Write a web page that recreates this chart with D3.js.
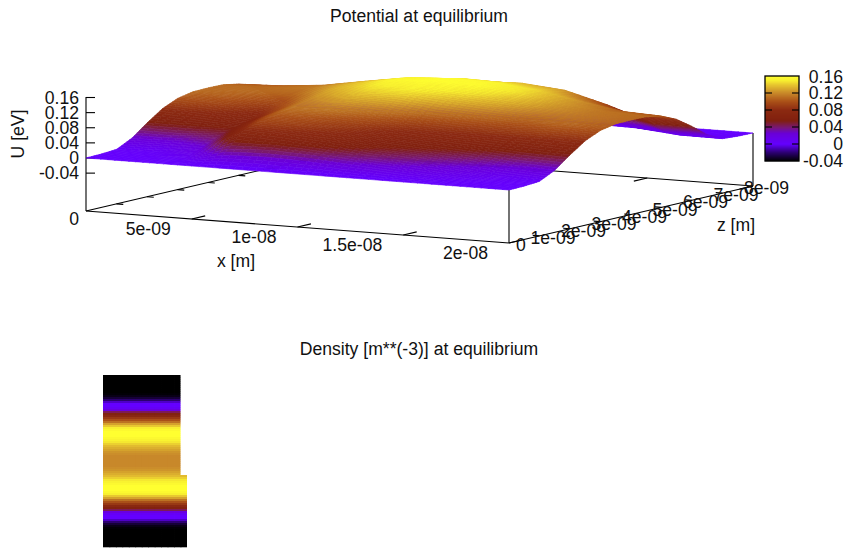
<!DOCTYPE html>
<html>
<head>
<meta charset="utf-8">
<script src="https://d3js.org/d3.v7.min.js"></script>
<style>
  html, body { margin: 0; padding: 0; background: #fff; }
  text { font-family: "Liberation Sans", Arial, sans-serif; font-size: 17.6px; fill: #111; }
</style>
</head>
<body>
<div id="chart"></div>
<script>
// x and z grid of the potential surface (metres)
var xGrid = [0, 2e-9, 4e-9, 6e-9, 8e-9, 1e-8, 1.2e-8, 1.4e-8, 1.6e-8, 1.8e-8, 2e-8];
var zGrid = [0, 5e-10, 1e-9, 1.5e-9, 2e-9, 2.5e-9, 3e-9, 3.5e-9, 4e-9, 4.5e-9, 5e-9, 5.5e-9, 6e-9, 6.5e-9, 7e-9, 7.5e-9, 8e-9];
// U [eV], one row per z, one column per x
var potential = [
  [0,0,0,0,0,0,0,0,0,0,0],
  [.001,.002,.008,.04,.045,.04,.03,.02,.01,.003,.001],
  [.004,.006,.022,.08,.075,.065,.05,.04,.025,.01,.004],
  [.024,.026,.04,.095,.09,.08,.062,.055,.045,.03,.024],
  [.055,.055,.055,.105,.1,.09,.075,.07,.065,.058,.055],
  [.083,.078,.065,.112,.115,.105,.09,.085,.085,.086,.083],
  [.101,.095,.08,.118,.13,.125,.11,.105,.10,.106,.101],
  [.109,.105,.095,.126,.142,.145,.135,.125,.115,.114,.109],
  [.11,.11,.108,.133,.15,.155,.15,.14,.125,.115,.11],
  [.109,.11,.115,.136,.155,.16,.158,.147,.127,.114,.109],
  [.101,.105,.115,.134,.152,.158,.155,.145,.125,.106,.101],
  [.083,.088,.098,.122,.14,.148,.145,.135,.11,.086,.083],
  [.055,.06,.07,.10,.118,.13,.135,.125,.095,.058,.055],
  [.024,.028,.035,.055,.07,.085,.095,.09,.06,.025,.024],
  [.004,.006,.01,.02,.025,.035,.045,.04,.015,.005,.004],
  [.001,.001,.002,.003,.004,.005,.005,.004,.002,.001,.001],
  [0,0,0,0,0,0,0,0,0,0,0]
];
var xTicks = [5e-9, 1e-8, 1.5e-8, 2e-8];
var xTickLabels = ['5e-09', '1e-08', '1.5e-08', '2e-08'];
var zTicks = [0, 1e-9, 2e-9, 3e-9, 4e-9, 5e-9, 6e-9, 7e-9, 8e-9];
var zTickLabels = ['0', '1e-09', '2e-09', '3e-09', '4e-09', '5e-09', '6e-09', '7e-09', '8e-09'];
var uTicks = [0.16, 0.12, 0.08, 0.04, 0, -0.04];
var uTickLabels = ['0.16', '0.12', '0.08', '0.04', '0', '-0.04'];

// palette, cb value -> colour
var paletteValues = [-0.04, -0.02, 0, 0.025, 0.04, 0.055, 0.08, 0.10, 0.12, 0.14, 0.15, 0.16];
var paletteColors = ['#000000', '#2c0070', '#6400ff', '#6a00d8', '#7a1a70', '#80200f', '#8c2a12', '#aa5018', '#c8882a', '#e8c830', '#f8f030', '#ffff30'];

// density per row of the map, top to bottom, as share of the colour range
var densityRows = [0, 0, 0, 0, 0, 0, 0, 0, 0, .005, .02, .05, .1, .16, .2, .2, .23, .3, .42, .5, .57, .64, .7, .76, .84, .9, .95, .98, 1, 1, 1, .98, .96, .94, .91, .88, .86, .84, .82, .81, .8, .8, .8,
  .8, .8, .8, .81, .82, .84, .86, .88, .91, .94, .96, .98, 1, 1, 1, .98, .95, .9, .84, .76, .7, .64, .57, .5, .42, .3, .23, .2, .2, .16, .1, .05, .02, .005, 0, 0, 0, 0, 0, 0, 0, 0, 0];
var densityColsTop = 12, densityColsBottom = 13, densityStepRow = 50;

var color = d3.scaleLinear().domain(paletteValues).range(paletteColors).interpolate(d3.interpolateRgb).clamp(true);

var svg = d3.select('#chart').append('svg').attr('width', 848).attr('height', 548).style('display', 'block');

// 3D box, projected the way the gnuplot view draws it
var xToA = d3.scaleLinear().domain([0, 2e-8]).range([0, 1]);
var zToT = d3.scaleLinear().domain([0, 8e-9]).range([0, 1]);
var uToPx = d3.scaleLinear().domain([0, 0.16]).range([53, 53 + 60.5]);

function project(x, z, u) {
    var a = xToA(x), t = zToT(z);
    return [86 + 423 * a + 244 * t, 211 + 32 * a - 57 * t - (u === null ? 0 : uToPx(u))];
}

function line(g, p, q, w) {
    g.append('line').attr('x1', p[0]).attr('y1', p[1]).attr('x2', q[0]).attr('y2', q[1])
        .attr('stroke', '#000').attr('stroke-width', w || 1.1);
}

function label(str, x, y, anchor) {
    return svg.append('text').attr('x', x).attr('y', y).attr('dy', '0.35em').attr('text-anchor', anchor || 'middle').text(str);
}

var back = svg.append('g');
// base of the box
line(back, project(0, 0, null), project(0, 8e-9, null));
line(back, project(0, 8e-9, null), project(2e-8, 8e-9, null));
line(back, project(2e-8, 0, null), project(2e-8, 8e-9, null));
line(back, project(0, 0, null), project(2e-8, 0, null));
// verticals
line(back, project(0, 0, null), [86, 97]);
line(back, project(2e-8, 0, null), project(2e-8, 0, 0));
line(back, project(2e-8, 8e-9, null), project(2e-8, 8e-9, 0));

xTicks.forEach(function(x, i){
    var p = project(x, 0, null), q = project(x, 8e-9 * 0.055, null);
    line(back, p, q);
    line(back, project(x, 8e-9, null), project(x, 8e-9 * 0.945, null));
    label(xTickLabels[i], p[0] - 21, p[1] + 10, 'end');
});
zTicks.forEach(function(z, i){
    if (i > 0 && i < 8){
        line(back, project(0, z, null), project(0.016 * 2e-8, z, null));
        line(back, project(2e-8, z, null), project(0.984 * 2e-8, z, null));
    }
    var p = project(2e-8, z, null);
    label(zTickLabels[i], p[0] + (i === 0 ? 7 : -9), p[1] + 2, 'start');
});
uTicks.forEach(function(u, i){
    var y = project(0, 0, u)[1];
    line(back, [86, y], [95, y]);
    label(uTickLabels[i], 79, y, 'end');
});
label('0', 79, 219, 'end');

// surface, each grid cell split up like pm3d interpolate does
var steps = 6;
var surface = svg.append('g');
for (var j = zGrid.length - 2; j >= 0; j--){
    for (var i = 0; i < xGrid.length - 1; i++){
        for (var sj = steps - 1; sj >= 0; sj--){
            for (var si = 0; si < steps; si++){
                var s0 = si / steps, s1 = (si + 1) / steps, r0 = sj / steps, r1 = (sj + 1) / steps;
                var corners = [[s0, r0], [s1, r0], [s1, r1], [s0, r1]].map(function(c){
                    var u = d3.interpolate(
                        d3.interpolate(potential[j][i], potential[j][i + 1])(c[0]),
                        d3.interpolate(potential[j + 1][i], potential[j + 1][i + 1])(c[0]))(c[1]);
                    var x = xGrid[i] + (xGrid[i + 1] - xGrid[i]) * c[0];
                    var z = zGrid[j] + (zGrid[j + 1] - zGrid[j]) * c[1];
                    return {p: project(x, z, u), u: u};
                });
                var c = color(d3.mean(corners, function(d){ return d.u; }));
                surface.append('polygon')
                    .attr('points', corners.map(function(d){ return d.p.join(','); }).join(' '))
                    .attr('fill', c).attr('stroke', c).attr('stroke-width', 0.6);
            }
        }
    }
}

// colour box
var cbY = d3.scaleLinear().domain([-0.04, 0.16]).range([161, 76]);
var cb = svg.append('g');
d3.range(161, 76, -1).forEach(function(y){
    cb.append('rect').attr('x', 765).attr('y', y - 1).attr('width', 34).attr('height', 1.2)
        .attr('fill', color(cbY.invert(y - 0.5)));
});
cb.append('rect').attr('x', 765).attr('y', 76).attr('width', 34).attr('height', 85)
    .attr('fill', 'none').attr('stroke', '#000').attr('stroke-width', 1.3);
uTicks.forEach(function(u, i){
    var y = cbY(u);
    if (i > 0 && i < 5){
        line(cb, [765, y], [772, y]);
        line(cb, [792, y], [799, y]);
    }
    label(uTickLabels[i], 843, y + (i === 0 ? 1 : 0), 'end');
});

label('U [eV]', 18, 134).attr('transform', 'rotate(-90 18 134)');
label('x [m]', 236, 261);
label('z [m]', 736, 225);
label('Potential at equilibrium', 419, 16);
label('Density [m**(-3)] at equilibrium', 419, 349);

// density map
var rowY = d3.scaleBand().domain(d3.range(densityRows.length)).range([375, 547]);
var colX = d3.scaleBand().domain(d3.range(densityColsBottom)).range([103, 187]);
var map = svg.append('g');
densityRows.forEach(function(d, r){
    var n = r < densityStepRow ? densityColsTop : densityColsBottom;
    d3.range(n).forEach(function(k){
        map.append('rect').attr('x', colX(k)).attr('y', rowY(r))
            .attr('width', colX.bandwidth() + (k < n - 1 ? 0.8 : 0)).attr('height', rowY.bandwidth() + 0.3)
            .attr('fill', color(-0.04 + 0.2 * d));
    });
});
</script>
</body>
</html>
